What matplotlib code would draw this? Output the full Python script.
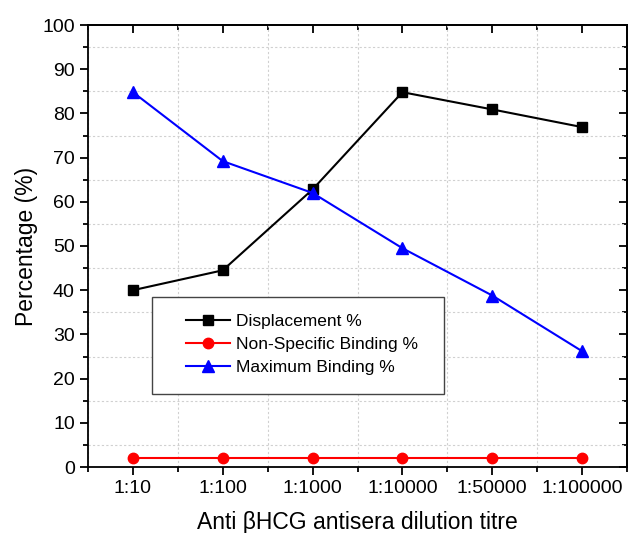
import matplotlib
matplotlib.use("Agg")
import matplotlib.pyplot as plt
from matplotlib.ticker import MultipleLocator, FixedLocator
from matplotlib.patches import Rectangle

plt.rcParams['font.family'] = ['Liberation Sans', 'DejaVu Sans']

categories = ["1:10", "1:100", "1:1000", "1:10000", "1:50000", "1:100000"]
displacement = [40.0, 44.5, 62.8, 84.8, 80.9, 76.9]
nsb = [2.0, 2.0, 2.0, 2.0, 2.0, 2.0]
max_binding = [84.8, 69.2, 62.0, 49.5, 38.8, 26.2]

fig = plt.figure(figsize=(6.3, 5.33), dpi=100)
ax = fig.add_axes([88/630, 1-467/533, 539/630, 442/533])

x = list(range(len(categories)))
ax.plot(x, displacement, color='black', marker='s', markersize=7, lw=1.5, label='Displacement %')
ax.plot(x, nsb, color='red', marker='o', markersize=7.5, lw=1.5, label='Non-Specific Binding %')
ax.plot(x, max_binding, color='blue', marker='^', markersize=8, lw=1.5, label='Maximum Binding %')

ax.set_xlim(-0.5, 5.5)
ax.set_ylim(0, 100)
ax.set_xticks(x)
ax.set_xticklabels(categories)
ax.xaxis.set_minor_locator(FixedLocator([i + 0.5 for i in range(-1, 6)]))
ax.yaxis.set_major_locator(MultipleLocator(10))
ax.yaxis.set_minor_locator(MultipleLocator(5))

ax.grid(which='minor', color='#d0d0d0', linestyle=(0, (2, 2)), linewidth=0.8)
ax.grid(which='major', visible=False)
ax.set_axisbelow(True)

for s in ax.spines.values():
    s.set_linewidth(1.3)

ax.tick_params(axis='both', which='major', direction='out', length=6, width=1.3, labelsize=14)
ax.tick_params(axis='both', which='minor', direction='out', length=3.5, width=1.3)
axt = ax.secondary_xaxis('top')
axt.set_xticks(x)
axt.xaxis.set_minor_locator(FixedLocator([i + 0.5 for i in range(-1, 6)]))
axt.tick_params(which='major', direction='in', length=6, width=1.3)
axt.tick_params(which='minor', direction='in', length=3.5, width=1.3)
axt.set_xticklabels([])
axr = ax.secondary_yaxis('right')
axr.yaxis.set_major_locator(MultipleLocator(10))
axr.yaxis.set_minor_locator(MultipleLocator(5))
axr.tick_params(which='major', direction='in', length=6, width=1.3)
axr.tick_params(which='minor', direction='in', length=3.5, width=1.3)
axr.set_yticklabels([])
axt.spines['top'].set_linewidth(1.3)
axr.spines['right'].set_linewidth(1.3)

ax.set_ylabel('Percentage (%)', fontsize=16.5, labelpad=3)
ax.set_xlabel('Anti βHCG antisera dilution titre', fontsize=16.5, labelpad=10)

# legend box
ax.add_patch(Rectangle((0.119, 0.165), 0.541, 0.22, transform=ax.transAxes,
                       facecolor='white', edgecolor='#444444', linewidth=1.0, zorder=4))
leg = ax.legend(loc='upper left', bbox_to_anchor=(0.182, 0.347), fontsize=12.5,
                frameon=False, handlelength=2.5, labelspacing=0.45, borderaxespad=0,
                borderpad=0, handletextpad=0.35)
leg.set_zorder(5)

fig.savefig('out.png', dpi=100)
